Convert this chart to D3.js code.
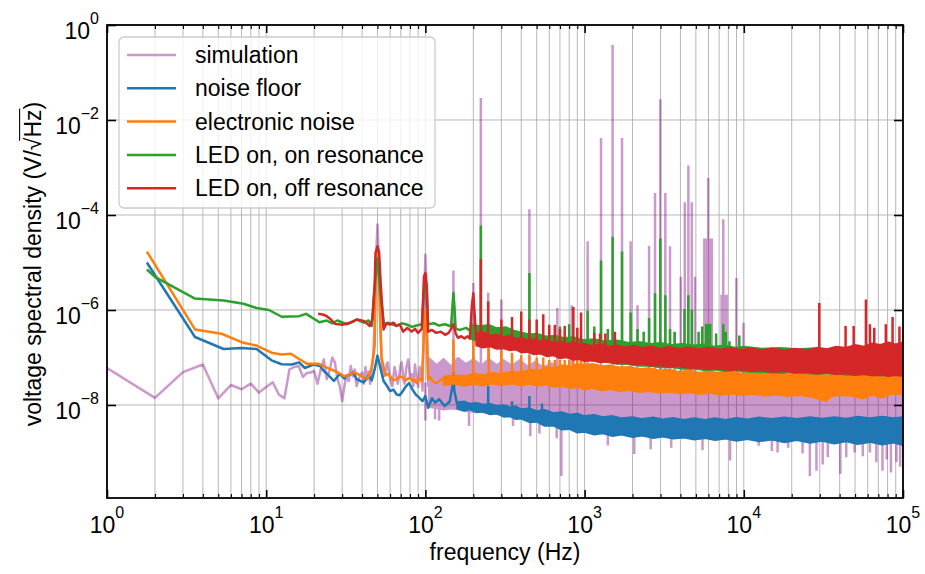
<!DOCTYPE html>
<html><head><meta charset="utf-8">
<script src="https://cdn.jsdelivr.net/npm/d3@7"></script>
<style>
body{margin:0;background:#fff}
text{font-family:"Liberation Sans",Arial,Helvetica,sans-serif;fill:#000}
</style>
</head><body>
<svg id="chart" width="925" height="574"></svg>
<script>
// ---------------- data (frequency Hz, V/sqrt(Hz)) ----------------
const xTickValues = [1, 10, 100, 1000, 10000, 100000];
const xTickLabels = ["0", "1", "2", "3", "4", "5"];
const yTickValues = [1, 1e-2, 1e-4, 1e-6, 1e-8];
const yTickLabels = ["0", "\u22122", "\u22124", "\u22126", "\u22128"];
const legendLabels = ["simulation", "noise floor", "electronic noise", "LED on, on resonance", "LED on, off resonance"];

// simulation
const simLine = [[1,6.0e-8],[2,1.41e-8],[3,4.9e-8],[4,7.1e-8],[5,1.38e-8],[6,2.63e-8],[7,2.14e-8],[8,2.82e-8],[9,1.82e-8],[10,2.4e-8],[11,3.0e-8],[12,1.66e-8],[13,1.38e-8],[14,5.6e-8],[15,6.3e-8],[16,6.6e-8],[17,3.9e-8],[18,4.7e-8],[19,4.8e-8],[20,5.2e-8],[21,2.8e-8],[22,5.6e-8],[23,9.1e-8],[24,3.5e-8],[25,5.2e-8],[26,1.0e-7],[27,7.9e-8],[28,3.5e-8],[29,2.5e-8],[30,1.2e-8],[31,2.5e-8],[32,4.2e-8],[33,3.2e-8],[34,6.6e-8],[35,4.0e-8],[36,5.6e-8],[37,2.5e-8],[38,3.5e-8],[40,4.8e-8],[41,2.8e-8],[42,6.3e-8],[43,3.5e-8],[44,5.0e-8],[45,2.8e-8],[46,5.6e-8],[47,1.0e-7],[48,6.3e-7],[49,1.26e-5],[50,6.3e-5],[51,1.26e-5],[52,6.3e-7],[53,1.0e-7],[54,4.0e-8],[56,4.2e-8],[57,7.1e-8],[58,7.9e-8],[60,3.5e-8],[62,2.5e-8],[64,6.3e-8],[65,5.0e-8],[67,2.8e-8],[68,3.5e-8],[70,7.1e-8],[71,7.9e-8],[73,3.2e-8],[74,2.8e-8],[76,6.3e-8],[78,9.1e-8],[80,4.0e-8],[82,4.5e-8],[84,2.5e-8],[86,7.1e-8],[88,4.0e-8],[90,2.4e-8],[92,6.3e-8],[94,5.0e-8],[96,2.0e-8],[98,1.0e-6],[100,1.45e-5],[102,1.0e-6],[104,2.5e-8],[106,7.9e-8]];
const simBand = [[105,8.9e-9,1.0e-7],[118,8.5e-9,7.0e-8],[130,7.9e-9,9.5e-8],[145,8.3e-9,6.6e-8],[160,8.0e-9,1.0e-7],[180,7.4e-9,7.4e-8],[200,7.1e-9,9.3e-8],[225,7.0e-9,6.9e-8],[250,6.6e-9,9.5e-8],[280,6.6e-9,7.0e-8],[310,6.3e-9,8.9e-8],[350,6.1e-9,6.8e-8],[390,5.8e-9,8.9e-8],[440,5.6e-9,6.6e-8],[490,5.3e-9,8.3e-8],[550,5.0e-9,6.3e-8],[620,4.9e-9,7.6e-8],[700,4.8e-9,5.6e-8],[800,4.6e-9,6.6e-8],[900,4.6e-9,5.0e-8],[1000,4.5e-9,5.5e-8],[2000,4.5e-9,3.8e-8],[5000,4.5e-9,3.5e-8],[10000,4.5e-9,3.2e-8],[30000,4.5e-9,3.2e-8],[100000,4.5e-9,2.8e-8]];
const simSpikesUp = [[150,6.8e-6],[200,3.7e-6],[223,2.9e-2],[248,2.3e-6],[300,1.66e-6],[450,1.32e-4],[674,1.1e-6],[830,1.26e-6],[1045,2.8e-5],[1268,4.2e-3],[1500,0.38],[1718,4.2e-3],[1946,2.8e-5],[2150,1.26e-6],[2541,2.24e-5],[2769,2.9e-4],[2990,2.75e-2],[3215,2.9e-4],[3440,2.2e-5],[3680,3.4e-7],[4020,5.0e-6],[4260,1.86e-4],[4485,1.1e-3],[4710,1.86e-4],[4935,5.0e-6],[5650,3.2e-5],[5800,3.2e-5],[5980,6.0e-4],[6150,3.2e-5],[6300,3.2e-5],[7250,2.1e-6],[7430,8.1e-5],[7600,2.1e-6],[7800,2.1e-6],[8980,4.7e-6],[9960,5.4e-7]];
const simSpikesDown = [[100,4.7e-9],[115,5.0e-9],[122,4.7e-9],[188,3.6e-9],[355,3.6e-9],[456,2.2e-9],[520,2.5e-9],[668,2.0e-9],[715,3.2e-10],[1400,1.41e-9],[2050,9.3e-10],[2600,1.17e-9],[3500,1.26e-9],[5500,1.12e-9],[8200,6.8e-10],[12400,1.38e-9],[15000,1.07e-9],[16300,1.0e-9],[19000,1.26e-9],[23400,9.5e-10],[26000,3.2e-10],[28600,4.1e-10],[31300,5.6e-10],[33700,7.9e-10],[40400,3.5e-10],[44000,7.9e-10],[49700,1.0e-9],[55900,8.3e-10],[62000,1.0e-9],[68000,6.2e-10],[74300,4.1e-10],[79000,7.1e-10],[84000,3.8e-10],[91000,6.3e-10],[96000,5.0e-10]];

// noise floor
const floorLine = [[1.78,1.0e-5],[3.57,2.7e-7],[5.4,1.51e-7],[7.0,1.58e-7],[8.7,1.51e-7],[10.8,8.7e-8],[12.5,7.2e-8],[14.5,7.1e-8],[16.1,7.9e-8],[17.5,6.0e-8],[19.8,7.1e-8],[21.8,6.6e-8],[23,5.2e-8],[24,4.6e-8],[26.6,3.2e-8],[29,4.5e-8],[31,3.6e-8],[32,4.2e-8],[34,4.4e-8],[35,4.8e-8],[37,3.5e-8],[39,3.2e-8],[41,3.0e-8],[43,3.7e-8],[44,4.2e-8],[46,3.3e-8],[48,5.6e-8],[50,1.1e-7],[52,6.3e-8],[54.6,3.2e-8],[57,2.6e-8],[60,1.95e-8],[63,2.1e-8],[66,1.66e-8],[69,1.6e-8],[72,1.95e-8],[75,2.4e-8],[79,2.9e-8],[83,2.1e-8],[87,1.66e-8],[91,1.45e-8],[96,1.2e-8],[100,1.55e-8],[104,8.7e-9],[110,1.38e-8],[115,1.12e-8],[122,1.32e-8],[132,9.5e-9],[142,1.17e-8],[148,2.5e-8],[150,4.8e-8],[152,2.0e-8],[158,1.05e-8]];
const floorBand = [[158,8.3e-9,1.15e-8],[175,7.5e-9,1.2e-8],[190,8.0e-9,1.08e-8],[210,6.9e-9,1.12e-8],[230,7.2e-9,1.02e-8],[255,6.3e-9,1.06e-8],[280,6.5e-9,9.6e-9],[310,5.6e-9,1.0e-8],[340,5.7e-9,9.0e-9],[370,5.0e-9,9.4e-9],[400,5.1e-9,8.2e-9],[450,4.3e-9,8.6e-9],[500,4.4e-9,7.5e-9],[560,3.6e-9,7.9e-9],[640,3.6e-9,6.8e-9],[720,3.0e-9,7.1e-9],[800,3.1e-9,6.3e-9],[900,2.6e-9,6.6e-9],[1000,2.7e-9,5.9e-9],[1150,2.35e-9,6.2e-9],[1300,2.5e-9,5.6e-9],[1500,2.2e-9,5.9e-9],[1700,2.35e-9,5.3e-9],[2000,2.1e-9,5.6e-9],[2300,2.25e-9,5.1e-9],[2700,2.0e-9,5.5e-9],[3100,2.15e-9,5.0e-9],[3600,1.95e-9,5.4e-9],[4200,2.05e-9,4.9e-9],[4900,1.85e-9,5.3e-9],[5700,2.0e-9,4.9e-9],[6600,1.8e-9,5.3e-9],[7700,1.95e-9,4.9e-9],[9000,1.75e-9,5.4e-9],[10500,1.9e-9,5.0e-9],[12500,1.7e-9,5.5e-9],[15000,1.85e-9,5.1e-9],[18000,1.62e-9,5.5e-9],[21500,1.8e-9,5.1e-9],[26000,1.58e-9,5.6e-9],[31000,1.75e-9,5.2e-9],[37000,1.52e-9,5.6e-9],[44000,1.7e-9,5.2e-9],[52000,1.48e-9,5.7e-9],[62000,1.65e-9,5.3e-9],[74000,1.45e-9,5.7e-9],[87000,1.6e-9,5.3e-9],[100000,1.42e-9,5.6e-9]];
const floorSpikes = [[248,2.5e-8],[350,1.2e-8],[450,1.55e-8],[540,1.07e-8]];

// electronic noise
const elecLine = [[1.78,1.7e-5],[3.57,3.9e-7],[5.25,3.16e-7],[7.0,2.1e-7],[8.7,1.78e-7],[10.8,1.26e-7],[12.5,1.15e-7],[14.3,1.2e-7],[16.1,9.3e-8],[18,7.4e-8],[21.2,7.4e-8],[25,5.75e-8],[27,5.2e-8],[29,4.6e-8],[31,4.0e-8],[33.6,4.4e-8],[36,4.8e-8],[39,4.2e-8],[42,3.6e-8],[44,3.9e-8],[46,6.3e-8],[48,1.74e-7],[49,1.0e-5],[50,1.7e-5],[51,5.0e-6],[53,1.0e-7],[56,4.2e-8],[58,4.5e-8],[61,3.8e-8],[63,3.3e-8],[66,3.5e-8],[69,4.0e-8],[72,3.8e-8],[75,3.3e-8],[77,3.5e-8],[80,3.8e-8],[83,3.2e-8],[86,3.4e-8],[88,2.9e-8],[91,3.6e-8],[95,3.2e-8],[98,3.2e-7],[100,1.0e-6],[102,3.2e-7],[104,3.5e-8],[107,3.8e-8],[110,3.3e-8],[115,2.9e-8],[120,3.0e-8],[125,3.4e-8],[130,3.5e-8]];
const elecBand = [[130,2.6e-8,4.0e-8],[150,2.8e-8,4.3e-8],[175,2.5e-8,4.1e-8],[200,2.75e-8,4.6e-8],[230,2.55e-8,4.3e-8],[265,2.8e-8,4.8e-8],[300,2.6e-8,4.5e-8],[345,2.8e-8,5.1e-8],[400,2.55e-8,4.9e-8],[450,2.75e-8,5.6e-8],[510,2.5e-8,5.3e-8],[570,2.65e-8,6.2e-8],[640,2.4e-8,6.0e-8],[720,2.5e-8,6.9e-8],[810,2.25e-8,6.5e-8],[900,2.35e-8,7.3e-8],[1000,2.1e-8,7.0e-8],[1130,2.25e-8,7.4e-8],[1280,2.0e-8,6.6e-8],[1450,2.15e-8,6.9e-8],[1650,1.95e-8,6.2e-8],[1900,2.05e-8,6.4e-8],[2200,1.85e-8,5.8e-8],[2550,1.95e-8,6.0e-8],[2950,1.8e-8,5.4e-8],[3400,1.88e-8,5.6e-8],[3950,1.75e-8,5.0e-8],[4600,1.82e-8,5.3e-8],[5300,1.68e-8,4.8e-8],[6200,1.78e-8,5.1e-8],[7200,1.62e-8,4.7e-8],[8400,1.72e-8,5.0e-8],[9800,1.6e-8,4.6e-8],[11500,1.68e-8,4.9e-8],[13500,1.55e-8,4.5e-8],[16000,1.64e-8,4.8e-8],[19000,1.52e-8,4.4e-8],[22500,1.6e-8,4.7e-8],[26500,1.48e-8,4.3e-8],[30000,1.3e-8,4.5e-8],[33000,1.2e-8,4.2e-8],[36000,1.55e-8,4.4e-8],[42000,1.6e-8,4.6e-8],[49000,1.5e-8,4.2e-8],[56000,1.35e-8,4.5e-8],[64000,1.62e-8,4.1e-8],[74000,1.4e-8,4.4e-8],[85000,1.7e-8,4.0e-8],[100000,1.65e-8,4.2e-8]];
const elecSpikes = [[150,2.4e-7],[200,2.4e-7],[250,2.2e-7],[300,1.41e-7],[350,1.26e-7],[400,1.12e-7],[450,1.12e-7],[500,1.0e-7],[550,1.0e-7],[600,8.9e-8],[650,8.9e-8],[700,8.9e-8],[750,8.9e-8],[800,8.9e-8],[850,1.0e-7],[900,8.9e-8],[950,1.0e-7],[1000,8.9e-8]];

// LED on, on resonance
const onLine = [[1.78,7.1e-6],[2.0,5.0e-6],[3.57,1.74e-6],[5.4,1.58e-6],[7.2,1.35e-6],[8.7,1.1e-6],[10.4,1.0e-6],[12.5,7.2e-7],[16.1,7.4e-7],[17.8,8.3e-7],[21.6,5.5e-7],[24,6.0e-7],[26,5.25e-7],[28,6.0e-7],[32,5.0e-7],[35,5.6e-7],[37,6.3e-7],[41,5.4e-7],[44,6.0e-7],[46,4.6e-7],[48,3.2e-6],[50,1.23e-5],[52,2.5e-6],[55,5.0e-7],[58,5.4e-7],[62,5.0e-7],[66,4.6e-7],[71,5.25e-7],[77,4.9e-7],[82,4.4e-7],[88,4.7e-7],[95,5.0e-7],[98,2.5e-6],[100,5.0e-6],[102,2.5e-6],[104,5.0e-7],[113,5.25e-7],[122,4.7e-7],[133,5.0e-7],[145,4.5e-7],[148,1.26e-6],[150,2.3e-6],[152,1.26e-6],[155,4.0e-7],[165,3.8e-7],[180,4.2e-7],[195,3.5e-7]];
const onBand = [[195,2.4e-7,5.0e-7],[220,2.2e-7,4.6e-7],[250,2.3e-7,4.9e-7],[280,2.0e-7,4.2e-7],[320,1.9e-7,4.4e-7],[360,1.7e-7,3.7e-7],[400,1.45e-7,3.4e-7],[450,1.5e-7,3.1e-7],[500,1.3e-7,3.2e-7],[570,1.25e-7,2.8e-7],[650,1.1e-7,2.9e-7],[740,1.05e-7,2.6e-7],[850,9.5e-8,2.7e-7],[1000,9.0e-8,2.35e-7],[1150,8.3e-8,2.45e-7],[1350,8.0e-8,2.2e-7],[1600,7.3e-8,2.3e-7],[1900,7.2e-8,2.05e-7],[2200,6.6e-8,2.15e-7],[2600,6.6e-8,1.95e-7],[3000,6.1e-8,2.05e-7],[3500,6.2e-8,1.85e-7],[4100,5.7e-8,1.95e-7],[4800,5.8e-8,1.8e-7],[5600,5.4e-8,1.9e-7],[6500,5.5e-8,1.7e-7],[7600,5.1e-8,1.8e-7],[8800,5.3e-8,1.62e-7],[10000,5.0e-8,1.7e-7],[13000,4.9e-8,1.55e-7],[17000,4.7e-8,1.6e-7],[22000,4.8e-8,1.5e-7],[28000,4.5e-8,1.58e-7],[36000,4.6e-8,1.5e-7],[45000,4.3e-8,1.65e-7],[58000,4.4e-8,1.7e-7],[72000,4.1e-8,1.8e-7],[88000,4.3e-8,1.75e-7],[100000,4.1e-8,1.8e-7]];
const onSpikes = [[223,6.0e-5],[450,6.0e-6],[700,4.5e-7],[800,5.0e-7],[1045,9.5e-7],[1150,4.5e-7],[1268,1.1e-5],[1400,4.0e-7],[1500,3.5e-5],[1718,1.7e-5],[1946,8.9e-7],[2150,4.0e-7],[2350,3.5e-7],[2541,6.8e-7],[2769,2.24e-6],[2990,3.2e-5],[3215,2.04e-6],[3440,4.0e-7],[3680,3.5e-7],[4240,1.05e-6],[4480,2.04e-6],[4720,1.0e-6],[5200,3.5e-7],[5480,4.5e-7],[5800,5.1e-7],[6000,5.0e-7],[6150,5.1e-7],[6700,3.2e-7],[7430,5.0e-7],[7700,3.5e-7],[8130,2.2e-7],[9370,2.9e-7]];

// LED on, off resonance
const offLine = [[21.2,8.3e-7],[23,7.9e-7],[24,7.4e-7],[25.5,6.3e-7],[27,5.1e-7],[30,4.9e-7],[33.6,5.4e-7],[37,6.3e-7],[41,5.9e-7],[44.8,4.6e-7],[46.5,6.3e-7],[48,3.2e-6],[48.6,1.58e-5],[50,2.2e-5],[51.2,1.58e-5],[52.5,3.2e-6],[54.6,3.9e-7],[57,5.25e-7],[60,4.9e-7],[63,5.4e-7],[66,4.6e-7],[69,5.0e-7],[72.5,3.5e-7],[77,4.2e-7],[82,3.5e-7],[86,4.0e-7],[90,3.3e-7],[95,4.0e-7],[98,5.1e-6],[100,6.0e-6],[102,3.2e-6],[104,3.5e-7],[110,3.8e-7],[117,3.3e-7],[125,3.5e-7],[133,3.0e-7],[140,3.3e-7],[145,4.0e-7],[150,5.0e-7],[155,3.2e-7],[160,2.6e-7],[168,2.8e-7],[176,2.5e-7],[184,2.8e-7],[190,2.5e-7],[196,1.26e-6],[200,2.24e-6],[204,7.9e-7],[208,2.4e-7]];
const offBand = [[208,1.78e-7,3.2e-7],[230,1.6e-7,3.5e-7],[255,1.7e-7,2.9e-7],[280,1.5e-7,3.1e-7],[310,1.55e-7,2.7e-7],[340,1.4e-7,2.9e-7],[370,1.45e-7,2.5e-7],[400,1.26e-7,2.6e-7],[440,1.3e-7,2.3e-7],[480,1.15e-7,2.45e-7],[530,1.2e-7,2.2e-7],[580,1.05e-7,2.35e-7],[640,1.1e-7,2.05e-7],[700,9.5e-8,2.2e-7],[770,1.0e-7,1.95e-7],[850,8.8e-8,2.1e-7],[930,9.2e-8,1.85e-7],[1000,8.3e-8,1.95e-7],[1120,8.6e-8,1.75e-7],[1250,7.8e-8,1.9e-7],[1400,8.1e-8,1.7e-7],[1600,7.4e-8,1.82e-7],[1800,7.7e-8,1.65e-7],[2050,7.0e-8,1.78e-7],[2300,7.3e-8,1.6e-7],[2600,6.6e-8,1.72e-7],[3000,6.8e-8,1.55e-7],[3400,6.2e-8,1.68e-7],[3900,6.5e-8,1.52e-7],[4500,5.9e-8,1.64e-7],[5200,6.1e-8,1.5e-7],[6000,5.6e-8,1.62e-7],[7000,5.8e-8,1.47e-7],[8200,5.3e-8,1.6e-7],[9500,5.6e-8,1.45e-7],[11000,5.1e-8,1.58e-7],[13000,5.3e-8,1.44e-7],[15000,4.9e-8,1.56e-7],[18000,5.1e-8,1.42e-7],[21000,4.7e-8,1.55e-7],[25000,4.9e-8,1.43e-7],[29000,4.5e-8,1.6e-7],[33000,4.8e-8,1.5e-7],[38000,4.4e-8,1.7e-7],[44000,4.6e-8,1.6e-7],[50000,4.2e-8,1.85e-7],[57000,4.5e-8,1.7e-7],[64000,4.1e-8,2.0e-7],[72000,4.3e-8,1.85e-7],[81000,4.0e-8,2.1e-7],[90000,4.2e-8,1.9e-7],[100000,4.0e-8,2.1e-7]];
const offSpikes = [[223,1.17e-5],[248,1.51e-6],[300,6.3e-7],[350,7.1e-7],[400,9.3e-7],[450,6.3e-7],[500,6.3e-7],[550,8.1e-7],[600,4.9e-7],[650,4.9e-7],[700,4.0e-7],[750,4.6e-7],[850,1.15e-6],[900,4.2e-7],[950,8.9e-7],[1150,3.3e-7],[1250,3.2e-7],[1350,3.2e-7],[1550,3.5e-7],[29800,1.41e-6],[43600,4.6e-7],[49000,4.6e-7],[58500,1.66e-6],[62000,5.0e-7],[66000,4.2e-7],[78000,5.0e-7],[86000,7.1e-7],[95000,4.5e-7]];

// ---------------- drawing ----------------
const M = {l:107, r:903, t:25, b:498};
const FS = 23;
const x = d3.scaleLog().domain([1, 1e5]).range([M.l, M.r]);
const y = d3.scaleLog().domain([1.1e-10, 1]).range([M.b, M.t]);
const svg = d3.select("#chart");

svg.append("defs").append("clipPath").attr("id","clip")
  .append("rect").attr("x",M.l).attr("y",M.t).attr("width",M.r-M.l).attr("height",M.b-M.t);

const xMinorVals = [];
xTickValues.slice(0,-1).forEach(d => { for (let k=2;k<=9;k++) xMinorVals.push(k*d); });

// grid
const grid = svg.append("g");
xTickValues.concat(xMinorVals).forEach(v => {
  grid.append("line").attr("x1",x(v)).attr("x2",x(v)).attr("y1",M.t).attr("y2",M.b)
    .attr("stroke","#b0b0b0").attr("stroke-width",0.9);
});
yTickValues.forEach(v => {
  grid.append("line").attr("x1",M.l).attr("x2",M.r).attr("y1",y(v)).attr("y2",y(v))
    .attr("stroke","#b0b0b0").attr("stroke-width",0.9);
});

const plot = svg.append("g").attr("clip-path","url(#clip)");
const lineGen = d3.line().x(d => x(d[0])).y(d => y(d[1]));
const areaGen = d3.area().x(d => x(d[0])).y0(d => y(d[1])).y1(d => y(d[2]));
const bis = d3.bisector(d => d[0]);
function spikeD(spikes, band) {
  return spikes.map(([f, v]) => {
    const b = band[bis.center(band, f)];
    const base = Math.sqrt(b[1]*b[2]);
    return "M" + x(f) + "," + y(base) + "V" + y(v);
  }).join("");
}
function drawSeries(color, opacity, line, band, spikeSets) {
  const g = plot.append("g").attr("opacity", opacity);
  g.append("path").attr("d", areaGen(band)).attr("fill", color).attr("stroke", color)
    .attr("stroke-width", 1.5).attr("stroke-linejoin","round");
  g.append("path").attr("d", lineGen(line)).attr("fill","none").attr("stroke", color)
    .attr("stroke-width", 2.5).attr("stroke-linejoin","round");
  spikeSets.forEach(s => {
    g.append("path").attr("d", spikeD(s, band)).attr("fill","none").attr("stroke", color).attr("stroke-width", 2.5);
  });
}
const colors = ["#800080", "#1f77b4", "#ff7f0e", "#2ca02c", "#d62728"];
const opac = [0.4, 1, 1, 1, 1];
drawSeries(colors[0], opac[0], simLine, simBand, [simSpikesUp, simSpikesDown]);
drawSeries(colors[1], opac[1], floorLine, floorBand, [floorSpikes]);
drawSeries(colors[2], opac[2], elecLine, elecBand, [elecSpikes]);
drawSeries(colors[3], opac[3], onLine, onBand, [onSpikes]);
drawSeries(colors[4], opac[4], offLine, offBand, [offSpikes]);

// axes ticks (inward) on all sides
function styleAxis(g, w) {
  g.select(".domain").remove();
  g.selectAll(".tick line").attr("stroke","#000").attr("stroke-width", w);
}
svg.append("g").attr("transform",`translate(0,${M.b})`)
  .call(d3.axisBottom(x).tickValues(xTickValues).tickSize(-8).tickFormat("")).call(g => styleAxis(g,1.6));
svg.append("g").attr("transform",`translate(0,${M.b})`)
  .call(d3.axisBottom(x).tickValues(xMinorVals).tickSize(-4).tickFormat("")).call(g => styleAxis(g,1.1));
svg.append("g").attr("transform",`translate(0,${M.t})`)
  .call(d3.axisTop(x).tickValues(xTickValues).tickSize(-8).tickFormat("")).call(g => styleAxis(g,1.6));
svg.append("g").attr("transform",`translate(0,${M.t})`)
  .call(d3.axisTop(x).tickValues(xMinorVals).tickSize(-4).tickFormat("")).call(g => styleAxis(g,1.1));
svg.append("g").attr("transform",`translate(${M.l},0)`)
  .call(d3.axisLeft(y).tickValues(yTickValues).tickSize(-9).tickFormat("")).call(g => styleAxis(g,1.6));
svg.append("g").attr("transform",`translate(${M.r},0)`)
  .call(d3.axisRight(y).tickValues(yTickValues).tickSize(-9).tickFormat("")).call(g => styleAxis(g,1.6));

svg.append("rect").attr("x",M.l).attr("y",M.t).attr("width",M.r-M.l).attr("height",M.b-M.t)
  .attr("fill","none").attr("stroke","#000").attr("stroke-width",1.8);

// tick labels
xTickValues.forEach((v,i) => {
  const t = svg.append("text").attr("x", x(v)).attr("y", 533).attr("text-anchor","middle").attr("font-size",FS);
  t.append("tspan").text("10");
  t.append("tspan").attr("dy",-15).attr("font-size",16).text(xTickLabels[i]);
});
yTickValues.forEach((v,i) => {
  const t = svg.append("text").attr("x", 99).attr("y", y(v)+14).attr("text-anchor","end").attr("font-size",FS);
  t.append("tspan").text("10");
  t.append("tspan").attr("dy",-15).attr("font-size",16).text(yTickLabels[i]);
});

// axis labels
svg.append("text").attr("x",(M.l+M.r)/2).attr("y",560).attr("text-anchor","middle").attr("font-size",FS).text("frequency (Hz)");
const yl = svg.append("g").attr("transform","translate(41,264) rotate(-90)");
const ylt = yl.append("text").attr("x",0).attr("y",0).attr("text-anchor","middle").attr("font-size",FS);
ylt.append("tspan").text("voltage spectral density (V/");
ylt.append("tspan").text("\u221A");
ylt.append("tspan").text("Hz");
ylt.append("tspan").text(")");
try {
  const n = ylt.node();
  const s = n.getExtentOfChar(28), z = n.getExtentOfChar(30);
  const top = -FS*0.93;
  yl.append("path").attr("d", `M${s.x + s.width*0.75},${top}H${z.x + z.width + 1}`)
    .attr("stroke","#000").attr("stroke-width",1.1).attr("fill","none");
} catch(e) {}

// legend
const lg = svg.append("g");
lg.append("rect").attr("x",119).attr("y",37).attr("width",316).attr("height",171).attr("rx",5)
  .attr("fill","#fff").attr("fill-opacity",0.8).attr("stroke","#cccccc").attr("stroke-width",1.3);
legendLabels.forEach((lab,i) => {
  const yy = 55 + i*33.3;
  lg.append("line").attr("x1",127).attr("x2",176).attr("y1",yy).attr("y2",yy)
    .attr("stroke",colors[i]).attr("stroke-opacity",opac[i]).attr("stroke-width",2.5);
  lg.append("text").attr("x",195).attr("y",yy+8).attr("font-size",FS).text(lab);
});
</script>
</body></html>
